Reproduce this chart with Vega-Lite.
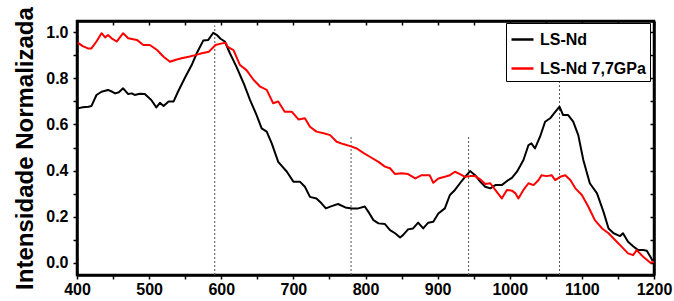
{
  "$schema": "https://vega.github.io/schema/vega-lite/v6.json",
  "width": 577,
  "height": 254,
  "autosize": {"type": "none"},
  "padding": {"left": 77, "top": 21, "right": 20, "bottom": 26},
  "background": "white",
  "config": {
    "font": "Liberation Sans",
    "view": {"stroke": "black", "strokeWidth": 2.5},
    "axis": {
      "grid": false,
      "domainColor": "black",
      "domainWidth": 2.5,
      "tickColor": "black",
      "tickWidth": 1.5,
      "tickSize": 4,
      "labelColor": "black",
      "labelFont": "Liberation Sans",
      "labelFontWeight": "bold",
      "labelFontSize": 16
    }
  },
  "datasets": {
    "rules": [
      {"wl": 591, "y1": -0.053, "y2": 1.03},
      {"wl": 780, "y1": -0.053, "y2": 0.547},
      {"wl": 943, "y1": -0.053, "y2": 0.55},
      {"wl": 1069, "y1": -0.053, "y2": 0.786}
    ],
    "spectra": [
      {"s": "LS-Nd", "wl": 401, "v": 0.670},
      {"s": "LS-Nd", "wl": 408, "v": 0.675},
      {"s": "LS-Nd", "wl": 416, "v": 0.677},
      {"s": "LS-Nd", "wl": 420, "v": 0.680},
      {"s": "LS-Nd", "wl": 427, "v": 0.728},
      {"s": "LS-Nd", "wl": 434, "v": 0.742},
      {"s": "LS-Nd", "wl": 443, "v": 0.750},
      {"s": "LS-Nd", "wl": 449, "v": 0.742},
      {"s": "LS-Nd", "wl": 453, "v": 0.735},
      {"s": "LS-Nd", "wl": 458, "v": 0.740},
      {"s": "LS-Nd", "wl": 464, "v": 0.757},
      {"s": "LS-Nd", "wl": 471, "v": 0.732},
      {"s": "LS-Nd", "wl": 476, "v": 0.735},
      {"s": "LS-Nd", "wl": 480, "v": 0.728},
      {"s": "LS-Nd", "wl": 487, "v": 0.733},
      {"s": "LS-Nd", "wl": 494, "v": 0.732},
      {"s": "LS-Nd", "wl": 503, "v": 0.706},
      {"s": "LS-Nd", "wl": 510, "v": 0.674},
      {"s": "LS-Nd", "wl": 515, "v": 0.694},
      {"s": "LS-Nd", "wl": 520, "v": 0.680},
      {"s": "LS-Nd", "wl": 527, "v": 0.700},
      {"s": "LS-Nd", "wl": 534, "v": 0.700},
      {"s": "LS-Nd", "wl": 540, "v": 0.742},
      {"s": "LS-Nd", "wl": 550, "v": 0.805},
      {"s": "LS-Nd", "wl": 559, "v": 0.858},
      {"s": "LS-Nd", "wl": 566, "v": 0.909},
      {"s": "LS-Nd", "wl": 575, "v": 0.964},
      {"s": "LS-Nd", "wl": 582, "v": 0.967},
      {"s": "LS-Nd", "wl": 589, "v": 0.998},
      {"s": "LS-Nd", "wl": 594, "v": 0.988},
      {"s": "LS-Nd", "wl": 599, "v": 0.972},
      {"s": "LS-Nd", "wl": 605, "v": 0.960},
      {"s": "LS-Nd", "wl": 612, "v": 0.909},
      {"s": "LS-Nd", "wl": 621, "v": 0.851},
      {"s": "LS-Nd", "wl": 631, "v": 0.779},
      {"s": "LS-Nd", "wl": 640, "v": 0.706},
      {"s": "LS-Nd", "wl": 649, "v": 0.641},
      {"s": "LS-Nd", "wl": 656, "v": 0.583},
      {"s": "LS-Nd", "wl": 663, "v": 0.569},
      {"s": "LS-Nd", "wl": 670, "v": 0.518},
      {"s": "LS-Nd", "wl": 679, "v": 0.438},
      {"s": "LS-Nd", "wl": 691, "v": 0.395},
      {"s": "LS-Nd", "wl": 700, "v": 0.352},
      {"s": "LS-Nd", "wl": 709, "v": 0.352},
      {"s": "LS-Nd", "wl": 716, "v": 0.330},
      {"s": "LS-Nd", "wl": 723, "v": 0.286},
      {"s": "LS-Nd", "wl": 732, "v": 0.279},
      {"s": "LS-Nd", "wl": 739, "v": 0.258},
      {"s": "LS-Nd", "wl": 745, "v": 0.236},
      {"s": "LS-Nd", "wl": 753, "v": 0.246},
      {"s": "LS-Nd", "wl": 762, "v": 0.255},
      {"s": "LS-Nd", "wl": 772, "v": 0.240},
      {"s": "LS-Nd", "wl": 781, "v": 0.236},
      {"s": "LS-Nd", "wl": 790, "v": 0.236},
      {"s": "LS-Nd", "wl": 799, "v": 0.244},
      {"s": "LS-Nd", "wl": 804, "v": 0.221},
      {"s": "LS-Nd", "wl": 811, "v": 0.185},
      {"s": "LS-Nd", "wl": 818, "v": 0.171},
      {"s": "LS-Nd", "wl": 827, "v": 0.168},
      {"s": "LS-Nd", "wl": 834, "v": 0.142},
      {"s": "LS-Nd", "wl": 841, "v": 0.128},
      {"s": "LS-Nd", "wl": 848, "v": 0.110},
      {"s": "LS-Nd", "wl": 852, "v": 0.120},
      {"s": "LS-Nd", "wl": 859, "v": 0.145},
      {"s": "LS-Nd", "wl": 866, "v": 0.149},
      {"s": "LS-Nd", "wl": 873, "v": 0.174},
      {"s": "LS-Nd", "wl": 880, "v": 0.149},
      {"s": "LS-Nd", "wl": 887, "v": 0.174},
      {"s": "LS-Nd", "wl": 894, "v": 0.178},
      {"s": "LS-Nd", "wl": 901, "v": 0.214},
      {"s": "LS-Nd", "wl": 910, "v": 0.236},
      {"s": "LS-Nd", "wl": 917, "v": 0.294},
      {"s": "LS-Nd", "wl": 924, "v": 0.316},
      {"s": "LS-Nd", "wl": 931, "v": 0.345},
      {"s": "LS-Nd", "wl": 938, "v": 0.373},
      {"s": "LS-Nd", "wl": 945, "v": 0.398},
      {"s": "LS-Nd", "wl": 952, "v": 0.380},
      {"s": "LS-Nd", "wl": 959, "v": 0.352},
      {"s": "LS-Nd", "wl": 966, "v": 0.330},
      {"s": "LS-Nd", "wl": 973, "v": 0.323},
      {"s": "LS-Nd", "wl": 980, "v": 0.337},
      {"s": "LS-Nd", "wl": 989, "v": 0.337},
      {"s": "LS-Nd", "wl": 998, "v": 0.359},
      {"s": "LS-Nd", "wl": 1003, "v": 0.368},
      {"s": "LS-Nd", "wl": 1010, "v": 0.395},
      {"s": "LS-Nd", "wl": 1019, "v": 0.446},
      {"s": "LS-Nd", "wl": 1026, "v": 0.511},
      {"s": "LS-Nd", "wl": 1030, "v": 0.518},
      {"s": "LS-Nd", "wl": 1035, "v": 0.496},
      {"s": "LS-Nd", "wl": 1042, "v": 0.547},
      {"s": "LS-Nd", "wl": 1049, "v": 0.612},
      {"s": "LS-Nd", "wl": 1056, "v": 0.627},
      {"s": "LS-Nd", "wl": 1063, "v": 0.655},
      {"s": "LS-Nd", "wl": 1069, "v": 0.677},
      {"s": "LS-Nd", "wl": 1074, "v": 0.641},
      {"s": "LS-Nd", "wl": 1081, "v": 0.641},
      {"s": "LS-Nd", "wl": 1088, "v": 0.612},
      {"s": "LS-Nd", "wl": 1095, "v": 0.554},
      {"s": "LS-Nd", "wl": 1102, "v": 0.446},
      {"s": "LS-Nd", "wl": 1111, "v": 0.345},
      {"s": "LS-Nd", "wl": 1121, "v": 0.301},
      {"s": "LS-Nd", "wl": 1130, "v": 0.221},
      {"s": "LS-Nd", "wl": 1137, "v": 0.149},
      {"s": "LS-Nd", "wl": 1144, "v": 0.128},
      {"s": "LS-Nd", "wl": 1153, "v": 0.116},
      {"s": "LS-Nd", "wl": 1157, "v": 0.128},
      {"s": "LS-Nd", "wl": 1164, "v": 0.091},
      {"s": "LS-Nd", "wl": 1171, "v": 0.072},
      {"s": "LS-Nd", "wl": 1178, "v": 0.055},
      {"s": "LS-Nd", "wl": 1185, "v": 0.055},
      {"s": "LS-Nd", "wl": 1190, "v": 0.052},
      {"s": "LS-Nd", "wl": 1195, "v": 0.026},
      {"s": "LS-Nd", "wl": 1198, "v": 0.009},
      {"s": "LS-Nd 7,7GPa", "wl": 401, "v": 0.955},
      {"s": "LS-Nd 7,7GPa", "wl": 408, "v": 0.940},
      {"s": "LS-Nd 7,7GPa", "wl": 415, "v": 0.930},
      {"s": "LS-Nd 7,7GPa", "wl": 420, "v": 0.930},
      {"s": "LS-Nd 7,7GPa", "wl": 427, "v": 0.960},
      {"s": "LS-Nd 7,7GPa", "wl": 434, "v": 0.996},
      {"s": "LS-Nd 7,7GPa", "wl": 439, "v": 0.978},
      {"s": "LS-Nd 7,7GPa", "wl": 443, "v": 0.988},
      {"s": "LS-Nd 7,7GPa", "wl": 448, "v": 0.974},
      {"s": "LS-Nd 7,7GPa", "wl": 455, "v": 0.960},
      {"s": "LS-Nd 7,7GPa", "wl": 464, "v": 0.996},
      {"s": "LS-Nd 7,7GPa", "wl": 471, "v": 0.974},
      {"s": "LS-Nd 7,7GPa", "wl": 483, "v": 0.967},
      {"s": "LS-Nd 7,7GPa", "wl": 492, "v": 0.945},
      {"s": "LS-Nd 7,7GPa", "wl": 501, "v": 0.945},
      {"s": "LS-Nd 7,7GPa", "wl": 511, "v": 0.923},
      {"s": "LS-Nd 7,7GPa", "wl": 520, "v": 0.894},
      {"s": "LS-Nd 7,7GPa", "wl": 529, "v": 0.872},
      {"s": "LS-Nd 7,7GPa", "wl": 536, "v": 0.880},
      {"s": "LS-Nd 7,7GPa", "wl": 545, "v": 0.887},
      {"s": "LS-Nd 7,7GPa", "wl": 555, "v": 0.894},
      {"s": "LS-Nd 7,7GPa", "wl": 564, "v": 0.901},
      {"s": "LS-Nd 7,7GPa", "wl": 573, "v": 0.909},
      {"s": "LS-Nd 7,7GPa", "wl": 583, "v": 0.916},
      {"s": "LS-Nd 7,7GPa", "wl": 592, "v": 0.945},
      {"s": "LS-Nd 7,7GPa", "wl": 601, "v": 0.952},
      {"s": "LS-Nd 7,7GPa", "wl": 606, "v": 0.955},
      {"s": "LS-Nd 7,7GPa", "wl": 609, "v": 0.937},
      {"s": "LS-Nd 7,7GPa", "wl": 617, "v": 0.923},
      {"s": "LS-Nd 7,7GPa", "wl": 626, "v": 0.858},
      {"s": "LS-Nd 7,7GPa", "wl": 635, "v": 0.836},
      {"s": "LS-Nd 7,7GPa", "wl": 645, "v": 0.793},
      {"s": "LS-Nd 7,7GPa", "wl": 654, "v": 0.764},
      {"s": "LS-Nd 7,7GPa", "wl": 663, "v": 0.750},
      {"s": "LS-Nd 7,7GPa", "wl": 672, "v": 0.692},
      {"s": "LS-Nd 7,7GPa", "wl": 679, "v": 0.700},
      {"s": "LS-Nd 7,7GPa", "wl": 688, "v": 0.655},
      {"s": "LS-Nd 7,7GPa", "wl": 698, "v": 0.655},
      {"s": "LS-Nd 7,7GPa", "wl": 707, "v": 0.622},
      {"s": "LS-Nd 7,7GPa", "wl": 716, "v": 0.627},
      {"s": "LS-Nd 7,7GPa", "wl": 723, "v": 0.590},
      {"s": "LS-Nd 7,7GPa", "wl": 732, "v": 0.569},
      {"s": "LS-Nd 7,7GPa", "wl": 742, "v": 0.562},
      {"s": "LS-Nd 7,7GPa", "wl": 751, "v": 0.554},
      {"s": "LS-Nd 7,7GPa", "wl": 760, "v": 0.525},
      {"s": "LS-Nd 7,7GPa", "wl": 769, "v": 0.515},
      {"s": "LS-Nd 7,7GPa", "wl": 779, "v": 0.506},
      {"s": "LS-Nd 7,7GPa", "wl": 788, "v": 0.496},
      {"s": "LS-Nd 7,7GPa", "wl": 797, "v": 0.477},
      {"s": "LS-Nd 7,7GPa", "wl": 806, "v": 0.460},
      {"s": "LS-Nd 7,7GPa", "wl": 818, "v": 0.438},
      {"s": "LS-Nd 7,7GPa", "wl": 827, "v": 0.417},
      {"s": "LS-Nd 7,7GPa", "wl": 834, "v": 0.410},
      {"s": "LS-Nd 7,7GPa", "wl": 841, "v": 0.385},
      {"s": "LS-Nd 7,7GPa", "wl": 850, "v": 0.388},
      {"s": "LS-Nd 7,7GPa", "wl": 859, "v": 0.385},
      {"s": "LS-Nd 7,7GPa", "wl": 869, "v": 0.366},
      {"s": "LS-Nd 7,7GPa", "wl": 878, "v": 0.380},
      {"s": "LS-Nd 7,7GPa", "wl": 889, "v": 0.380},
      {"s": "LS-Nd 7,7GPa", "wl": 894, "v": 0.347},
      {"s": "LS-Nd 7,7GPa", "wl": 901, "v": 0.366},
      {"s": "LS-Nd 7,7GPa", "wl": 910, "v": 0.373},
      {"s": "LS-Nd 7,7GPa", "wl": 917, "v": 0.380},
      {"s": "LS-Nd 7,7GPa", "wl": 924, "v": 0.395},
      {"s": "LS-Nd 7,7GPa", "wl": 931, "v": 0.385},
      {"s": "LS-Nd 7,7GPa", "wl": 938, "v": 0.373},
      {"s": "LS-Nd 7,7GPa", "wl": 945, "v": 0.376},
      {"s": "LS-Nd 7,7GPa", "wl": 952, "v": 0.376},
      {"s": "LS-Nd 7,7GPa", "wl": 959, "v": 0.362},
      {"s": "LS-Nd 7,7GPa", "wl": 966, "v": 0.342},
      {"s": "LS-Nd 7,7GPa", "wl": 973, "v": 0.345},
      {"s": "LS-Nd 7,7GPa", "wl": 982, "v": 0.308},
      {"s": "LS-Nd 7,7GPa", "wl": 989, "v": 0.279},
      {"s": "LS-Nd 7,7GPa", "wl": 996, "v": 0.316},
      {"s": "LS-Nd 7,7GPa", "wl": 1003, "v": 0.313},
      {"s": "LS-Nd 7,7GPa", "wl": 1008, "v": 0.301},
      {"s": "LS-Nd 7,7GPa", "wl": 1012, "v": 0.279},
      {"s": "LS-Nd 7,7GPa", "wl": 1019, "v": 0.316},
      {"s": "LS-Nd 7,7GPa", "wl": 1026, "v": 0.345},
      {"s": "LS-Nd 7,7GPa", "wl": 1033, "v": 0.337},
      {"s": "LS-Nd 7,7GPa", "wl": 1040, "v": 0.359},
      {"s": "LS-Nd 7,7GPa", "wl": 1044, "v": 0.380},
      {"s": "LS-Nd 7,7GPa", "wl": 1051, "v": 0.376},
      {"s": "LS-Nd 7,7GPa", "wl": 1058, "v": 0.380},
      {"s": "LS-Nd 7,7GPa", "wl": 1063, "v": 0.359},
      {"s": "LS-Nd 7,7GPa", "wl": 1070, "v": 0.373},
      {"s": "LS-Nd 7,7GPa", "wl": 1077, "v": 0.380},
      {"s": "LS-Nd 7,7GPa", "wl": 1084, "v": 0.359},
      {"s": "LS-Nd 7,7GPa", "wl": 1091, "v": 0.323},
      {"s": "LS-Nd 7,7GPa", "wl": 1100, "v": 0.294},
      {"s": "LS-Nd 7,7GPa", "wl": 1109, "v": 0.243},
      {"s": "LS-Nd 7,7GPa", "wl": 1118, "v": 0.185},
      {"s": "LS-Nd 7,7GPa", "wl": 1128, "v": 0.149},
      {"s": "LS-Nd 7,7GPa", "wl": 1137, "v": 0.128},
      {"s": "LS-Nd 7,7GPa", "wl": 1146, "v": 0.099},
      {"s": "LS-Nd 7,7GPa", "wl": 1155, "v": 0.070},
      {"s": "LS-Nd 7,7GPa", "wl": 1164, "v": 0.041},
      {"s": "LS-Nd 7,7GPa", "wl": 1171, "v": 0.033},
      {"s": "LS-Nd 7,7GPa", "wl": 1176, "v": 0.055},
      {"s": "LS-Nd 7,7GPa", "wl": 1185, "v": 0.026},
      {"s": "LS-Nd 7,7GPa", "wl": 1195, "v": 0.000},
      {"s": "LS-Nd 7,7GPa", "wl": 1200, "v": 0.004}
    ]
  },
  "layer": [
    {
      "data": {"name": "rules"},
      "mark": {"type": "rule", "color": "#555555", "strokeWidth": 1, "strokeDash": [2, 2]},
      "encoding": {
        "x": {
          "field": "wl", "type": "quantitative",
          "scale": {"domain": [400, 1200], "nice": false, "zero": false},
          "axis": {"orient": "top", "labels": false, "title": null, "values": [400,450,500,550,600,650,700,750,800,850,900,950,1000,1050,1100,1150,1200], "tickSize": -4}
        },
        "y": {
          "field": "y1", "type": "quantitative",
          "scale": {"domain": [-0.053, 1.049], "nice": false, "zero": false},
          "axis": {"orient": "right", "labels": false, "title": null, "values": [0,0.1,0.2,0.3,0.4,0.5,0.6,0.7,0.8,0.9,1.0], "tickSize": -4}
        },
        "y2": {"field": "y2"}
      }
    },
    {
      "data": {"name": "spectra"},
      "mark": {"type": "line", "strokeWidth": 2, "strokeJoin": "round"},
      "encoding": {
        "x": {
          "field": "wl", "type": "quantitative",
          "scale": {"domain": [400, 1200], "nice": false, "zero": false},
          "axis": {
            "orient": "bottom", "title": null,
            "format": "d",
            "values": [400,450,500,550,600,650,700,750,800,850,900,950,1000,1050,1100,1150,1200],
            "labelExpr": "datum.value % 100 == 0 ? datum.label : ''",
            "labelPadding": 2, "labelFlush": false, "labelOverlap": false
          }
        },
        "y": {
          "field": "v", "type": "quantitative",
          "scale": {"domain": [-0.053, 1.049], "nice": false, "zero": false},
          "axis": {
            "orient": "left",
            "title": "Intensidade Normalizada",
            "titleFont": "Liberation Sans",
            "titleFontSize": 24,
            "titleFontWeight": "bold",
            "titleColor": "black",
            "titleAngle": -90,
            "titleAlign": "center",
            "titleBaseline": "alphabetic",
            "titleX": -45,
            "titleY": 127,
            "values": [0,0.1,0.2,0.3,0.4,0.5,0.6,0.7,0.8,0.9,1.0],
            "labelExpr": "round(datum.value * 10) % 2 == 0 ? format(datum.value, '.1f') : ''",
            "labelPadding": 5, "labelOverlap": false, "labelFlush": false
          }
        },
        "color": {
          "field": "s", "type": "nominal",
          "scale": {"domain": ["LS-Nd", "LS-Nd 7,7GPa"], "range": ["#000000", "#ff0000"]},
          "legend": {
            "title": null,
            "orient": "none",
            "legendX": 429,
            "legendY": 2,
            "strokeColor": "black",
            "fillColor": "white",
            "padding": 4,
            "symbolType": "stroke",
            "symbolSize": 484,
            "symbolStrokeWidth": 2.5,
            "labelFont": "Liberation Sans",
            "labelFontSize": 16,
            "labelFontWeight": "bold",
            "labelColor": "black",
            "labelOffset": 5,
            "rowPadding": 8,
            "labelLimit": 200
          }
        }
      }
    }
  ],
  "resolve": {"axis": {"x": "independent", "y": "independent"}}
}
